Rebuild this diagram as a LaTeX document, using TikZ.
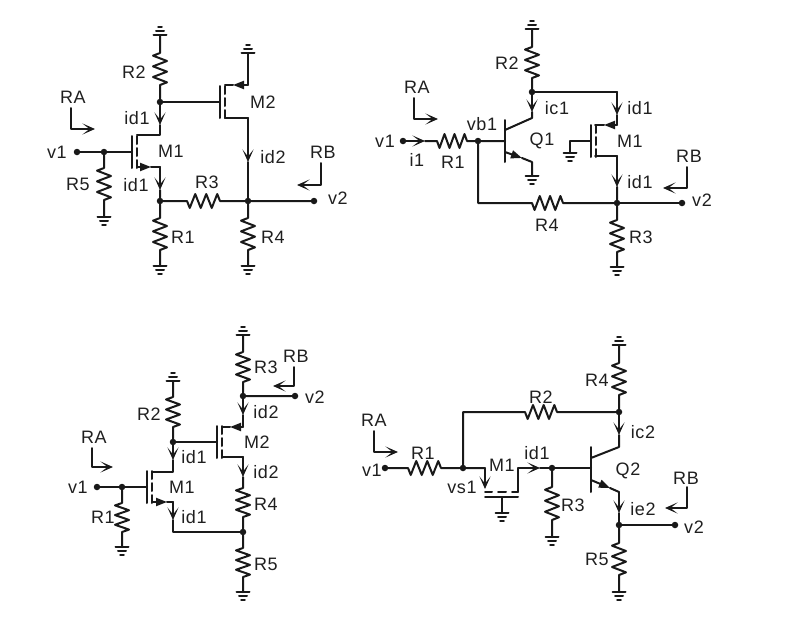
\documentclass[tikz,border=0pt]{standalone}
\usepackage{fontspec}
\setmainfont[LetterSpace=3]{Liberation Sans}
\usetikzlibrary{calc,arrows.meta}
\newcommand\mkc[2]{\coordinate (#1) at (#2);}
\newcommand\mkl[3]{\node[lbl] (#1) at (#2) {#3};}
\newcommand\mkd[2]{\node[dot] (#1) at (#2) {};}
\tikzset{
  x=1pt,y=-1pt,
  lbl/.style={inner sep=0pt,font=\fontsize{18}{20}\selectfont,text=black!88},
  dot/.style={circle,fill=black!90,draw=none,minimum size=6.5pt,inner sep=0pt},
  wire/.style={line width=2pt,draw=black!90,line cap=round,line join=round},
  thin wire/.style={line width=1.5pt,draw=black!90,line cap=round,line join=round},
  wa/.style={wire,-{Stealth[length=12.5pt,width=11pt,inset=7pt]}},
  la/.style={wire,-{Stealth[length=12.5pt,width=11pt,inset=7pt]}},
  fa/.style={wire,-{Triangle[length=11pt,width=8pt]}},
  rz/.style={to path={
    -- ($(\tikztostart)!1/12!(\tikztotarget)!7pt!-90:(\tikztotarget)$)
    -- ($(\tikztostart)!3/12!(\tikztotarget)!7pt!90:(\tikztotarget)$)
    -- ($(\tikztostart)!5/12!(\tikztotarget)!7pt!-90:(\tikztotarget)$)
    -- ($(\tikztostart)!7/12!(\tikztotarget)!7pt!90:(\tikztotarget)$)
    -- ($(\tikztostart)!9/12!(\tikztotarget)!7pt!-90:(\tikztotarget)$)
    -- ($(\tikztostart)!11/12!(\tikztotarget)!7pt!90:(\tikztotarget)$)
    -- (\tikztotarget)}},
  gnd/.pic={\draw[wire] (-6.5,0)--(6.5,0) (-4,4)--(4,4); \draw[thin wire] (-2,8)--(2,8);},
  gndi/.pic={\draw[wire] (-6.5,0)--(6.5,0) (-4,-4)--(4,-4); \draw[thin wire] (-2,-8)--(2,-8);},
  mos/.pic={\draw[wire] (0,-16)--(0,16) (5,-16)--(5,-8) (5,-4)--(5,4) (5,8)--(5,16);},
}
\begin{document}
\begin{tikzpicture}
\useasboundingbox (0,0) rectangle (812,643);
% ---------- circuit A
\mkc{ag}{160,35}\mkc{ar2t}{160,53}\mkc{ar2b}{160,85}\mkd{an1}{160,102}
\mkc{at1}{160,125}\mkc{ad}{160,135}\mkc{adc}{137,135}\mkc{agb}{132,152}
\mkd{av1}{77,152}\mkd{an2}{104,152}\mkc{ar5t}{104,168}\mkc{ar5b}{104,200}\mkc{ag5}{104,217}
\mkc{asc}{137,167}\mkc{asm}{151,167}\mkc{as}{160,167}\mkc{at2}{160,190}\mkd{an3}{160,201}
\mkc{ar1t}{160,218}\mkc{ar1b}{160,250}\mkc{ag1}{160,266}
\mkc{ar3l}{187,201}\mkc{ar3r}{220,201}\mkd{an4}{248,201}\mkd{av2}{314,201}
\mkc{ar4t}{248,218}\mkc{ar4b}{248,250}\mkc{ag4}{248,266}
\mkc{ag2}{208,102}\mkc{amg}{220,102}\mkc{amsc}{225,85}\mkc{amst}{233,85}\mkc{ams}{248,85}\mkc{agt}{248,53}
\mkc{amdc}{225,118}\mkc{amd}{248,118}\mkc{at3}{248,162}
\mkc{ara}{71,108}\mkc{arac}{71,129}\mkc{arae}{95,129}
\mkc{arb}{321,163}\mkc{arbc}{321,185}\mkc{arbe}{297,185}
\draw[wire] (ag) -- (ar2t) to[rz] (ar2b) -- (an1);
\draw[wa] (an1) -- (at1);
\draw[wire] (at1) -- (ad) -- (adc);
\pic at (ag) {gndi}; \pic at (agb) {mos};
\draw[wire] (av1) -- (agb);
\draw[wire] (an2) -- (ar5t) to[rz] (ar5b) -- (ag5); \pic at (ag5) {gnd};
\draw[fa] (asc) -- (asm);
\draw[wire] (asm) -- (as);
\draw[wa] (as) -- (at2);
\draw[wire] (at2) -- (an3) -- (ar1t) to[rz] (ar1b) -- (ag1); \pic at (ag1) {gnd};
\draw[wire] (an3) -- (ar3l) to[rz] (ar3r) -- (an4) -- (av2);
\draw[wire] (an4) -- (ar4t) to[rz] (ar4b) -- (ag4); \pic at (ag4) {gnd};
\draw[wire] (an1) -- (amg); \pic at (220,102) {mos};
\draw[fa] (ams) -- (amst);
\draw[wire] (amst) -- (amsc);
\draw[wire] (agt) -- (ams); \pic at (agt) {gndi};
\draw[wire] (amdc) -- (amd);
\draw[wa] (amd) -- (at3);
\draw[wire] (at3) -- (an4);
\draw[la] (ara) -- (arac) -- (arae);
\draw[la] (arb) -- (arbc) -- (arbe);
\mkl{l1}{73,97}{RA}\mkl{l2}{57,152}{v1}\mkl{l3}{338,198}{v2}\mkl{l4}{137,118}{id1}\mkl{l5}{136,185}{id1}
\mkl{l6}{78,184}{R5}\mkl{l7}{134,72}{R2}\mkl{l8}{171,151}{M1}\mkl{l9}{263,102}{M2}\mkl{l10}{273,157}{id2}
\mkl{l11}{323,152}{RB}\mkl{l12}{207,182}{R3}\mkl{l13}{183,237}{R1}\mkl{l14}{273,237}{R4}
% ---------- circuit B
\mkc{bg}{532,29}\mkc{br2t}{532,47}\mkc{br2b}{532,78}\mkd{bn1}{532,92}\mkc{bt1}{532,112}\mkc{bc}{532,118}\mkc{bcb}{505,130}
\mkc{bbb}{505,141}\mkd{bv1}{403,141}\mkc{bt2}{425,141}\mkc{br1l}{437,141}\mkc{br1r}{467,141}\mkd{bn2}{478,141}
\mkc{beb}{505,152}\mkc{bet}{522,158}\mkc{be}{532,162}\mkc{bge}{532,176}
\mkc{bcor}{617,92}\mkc{bt3}{617,115}\mkc{bs}{617,125}\mkc{bst}{604,125}\mkc{bsc}{595,125}
\mkc{bgb}{591,141}\mkc{bgc}{570,141}\mkc{bgg}{570,153}
\mkc{bdc}{595,156}\mkc{bd}{617,156}\mkc{bt4}{617,187}\mkd{bn3}{617,203}\mkd{bv2}{682,203}
\mkc{br3t}{617,220}\mkc{br3b}{617,252}\mkc{bg3}{617,267}
\mkc{bcc}{478,203}\mkc{br4l}{532,203}\mkc{br4r}{563,203}
\mkc{bra}{414,98}\mkc{brac}{414,119}\mkc{brae}{438,119}
\mkc{brb}{687,167}\mkc{brbc}{687,188}\mkc{brbe}{663,188}
\draw[wire] (bg) -- (br2t) to[rz] (br2b) -- (bn1); \pic at (bg) {gndi};
\draw[wa] (bn1) -- (bt1);
\draw[wire] (bt1) -- (bc) -- (bcb);
\draw[wire] (505,120) -- (505,162);
\draw[wa] (bv1) -- (bt2);
\draw[wire] (bt2) -- (br1l) to[rz] (br1r) -- (bn2) -- (bbb);
\draw[fa] (beb) -- (bet);
\draw[wire] (bet) -- (be) -- (bge); \pic at (bge) {gnd};
\draw[wire] (bn1) -- (bcor);
\draw[wa] (bcor) -- (bt3);
\draw[wire] (bt3) -- (bs);
\draw[fa] (bs) -- (bst);
\draw[wire] (bst) -- (bsc);
\pic at (591,141) {mos};
\draw[wire] (bgb) -- (bgc) -- (bgg); \pic at (bgg) {gnd};
\draw[wire] (bdc) -- (bd);
\draw[wa] (bd) -- (bt4);
\draw[wire] (bt4) -- (bn3) -- (br3t) to[rz] (br3b) -- (bg3); \pic at (bg3) {gnd};
\draw[wire] (bn3) -- (bv2);
\draw[wire] (bn2) -- (bcc) -- (br4l) to[rz] (br4r) -- (bn3);
\draw[la] (bra) -- (brac) -- (brae);
\draw[la] (brb) -- (brbc) -- (brbe);
\mkl{m1}{385,141}{v1}\mkl{m2}{417,160}{i1}\mkl{m3}{453,162}{R1}\mkl{m4}{482,124}{vb1}\mkl{m5}{417,87}{RA}
\mkl{m6}{542,141}{Q1}\mkl{m7}{557,108}{ic1}\mkl{m8}{640,108}{id1}\mkl{m9}{630,141}{M1}\mkl{m10}{689,156}{RB}
\mkl{m11}{640,182}{id1}\mkl{m12}{547,225}{R4}\mkl{m13}{641,237}{R3}\mkl{m14}{507,63}{R2}\mkl{m15}{702,200}{v2}
% ---------- circuit C
\mkc{cg}{243,335}\mkc{cr3t}{243,352}\mkc{cr3b}{243,382}\mkd{cn1}{243,396}\mkd{cv2}{295,396}
\mkc{ct1}{243,415}\mkc{cs}{243,427}\mkc{cst}{230,427}\mkc{csc}{222,427}\mkc{cgb}{217,442}
\mkc{cdc}{222,457}\mkc{cd}{243,457}\mkc{ct2}{243,477}\mkc{cr4t}{243,488}\mkc{cr4b}{243,517}\mkd{cn2}{243,532}
\mkc{cr5t}{243,548}\mkc{cr5b}{243,577}\mkc{cg5}{243,592}
\mkc{cg2}{173,381}\mkc{cr2t}{173,397}\mkc{cr2b}{173,427}\mkd{cn3}{173,442}\mkc{ct3}{173,460}
\mkc{cd1}{173,472}\mkc{cdc1}{152,472}\mkc{cgb1}{147,487}\mkd{cv1}{97,487}\mkd{cn4}{122,487}
\mkc{cr1t}{122,503}\mkc{cr1b}{122,532}\mkc{cg1}{122,547}
\mkc{csc1}{152,502}\mkc{cst1}{167,502}\mkc{cs1}{173,502}\mkc{ct4}{173,520}\mkc{cc1}{173,532}
\mkc{cra}{92,448}\mkc{crac}{92,467}\mkc{crae}{113,467}
\mkc{crb}{294,367}\mkc{crbc}{294,386}\mkc{crbe}{273,386}
\draw[wire] (cg) -- (cr3t) to[rz] (cr3b) -- (cn1) -- (cv2); \pic at (cg) {gndi};
\draw[wa] (cn1) -- (ct1);
\draw[wire] (ct1) -- (cs);
\draw[fa] (cs) -- (cst);
\draw[wire] (cst) -- (csc);
\pic at (217,442) {mos};
\draw[wire] (cn3) -- (cgb);
\draw[wire] (cdc) -- (cd);
\draw[wa] (cd) -- (ct2);
\draw[wire] (ct2) -- (cr4t) to[rz] (cr4b) -- (cn2) -- (cr5t) to[rz] (cr5b) -- (cg5); \pic at (cg5) {gnd};
\draw[wire] (cg2) -- (cr2t) to[rz] (cr2b) -- (cn3); \pic at (cg2) {gndi};
\draw[wa] (cn3) -- (ct3);
\draw[wire] (ct3) -- (cd1) -- (cdc1);
\pic at (147,487) {mos};
\draw[wire] (cv1) -- (cgb1);
\draw[wire] (cn4) -- (cr1t) to[rz] (cr1b) -- (cg1); \pic at (cg1) {gnd};
\draw[fa] (csc1) -- (cst1);
\draw[wire] (cst1) -- (cs1);
\draw[wa] (cs1) -- (ct4);
\draw[wire] (ct4) -- (cc1) -- (cn2);
\draw[la] (cra) -- (crac) -- (crae);
\draw[la] (crb) -- (crbc) -- (crbe);
\mkl{n1}{78,487}{v1}\mkl{n2}{94,437}{RA}\mkl{n3}{182,487}{M1}\mkl{n4}{103,517}{R1}\mkl{n5}{194,457}{id1}
\mkl{n6}{194,517}{id1}\mkl{n7}{149,414}{R2}\mkl{n8}{257,442}{M2}\mkl{n9}{266,412}{id2}\mkl{n10}{266,472}{id2}
\mkl{n11}{266,367}{R3}\mkl{n12}{296,356}{RB}\mkl{n13}{266,504}{R4}\mkl{n14}{266,564}{R5}\mkl{n15}{315,397}{v2}
% ---------- circuit D
\mkc{dg}{619,345}\mkc{dr4t}{619,363}\mkc{dr4b}{619,395}\mkd{dn1}{619,412}\mkc{dt1}{619,435}\mkc{dc}{619,447}\mkc{dcb}{591,458}
\mkc{dr2r}{557,412}\mkc{dr2l}{525,412}\mkc{dcr}{463,412}\mkd{dn2}{463,468}
\mkd{dv1}{385,468}\mkc{dr1l}{408,468}\mkc{dr1r}{441,468}
\mkc{dmc}{485,468}\mkc{dmt}{485,489}\mkc{dmd}{485,492}\mkc{dmr}{518,492}\mkc{dmrt}{518,468}
\mkc{dt2}{540,468}\mkd{dn3}{552,468}\mkc{dbb}{591,468}
\mkc{dgb}{502,497}\mkc{dgg}{502,513}
\mkc{dr3t}{552,487}\mkc{dr3b}{552,520}\mkc{dg3}{552,537}
\mkc{deb}{591,480}\mkc{det}{610,488}\mkc{de}{619,492}\mkc{dt3}{619,513}\mkd{dn4}{619,525}\mkd{dv2}{675,525}
\mkc{dr5t}{619,543}\mkc{dr5b}{619,575}\mkc{dg5}{619,592}
\mkc{dra}{374,431}\mkc{drac}{374,452}\mkc{drae}{398,452}
\mkc{drb}{687,487}\mkc{drbc}{687,508}\mkc{drbe}{665,508}
\draw[wire] (dg) -- (dr4t) to[rz] (dr4b) -- (dn1); \pic at (dg) {gndi};
\draw[wa] (dn1) -- (dt1);
\draw[wire] (dt1) -- (dc) -- (dcb);
\draw[wire] (591,447) -- (591,492);
\draw[wire] (dn1) -- (dr2r) to[rz] (dr2l) -- (dcr) -- (dn2);
\draw[wire] (dv1) -- (dr1l) to[rz] (dr1r) -- (dn2) -- (dmc);
\draw[wa] (dmc) -- (dmt);
\draw[wire] (dmr) -- (dmrt);
\draw[wire] (485,492) -- (492,492) (498,492) -- (506,492) (512,492) -- (518,492);
\draw[wire] (485,497) -- (518,497);
\draw[wire] (dgb) -- (dgg); \pic at (dgg) {gnd};
\draw[wa] (dmrt) -- (dt2);
\draw[wire] (dt2) -- (dn3) -- (dbb);
\draw[wire] (dn3) -- (dr3t) to[rz] (dr3b) -- (dg3); \pic at (dg3) {gnd};
\draw[fa] (deb) -- (det);
\draw[wire] (det) -- (de);
\draw[wa] (de) -- (dt3);
\draw[wire] (dt3) -- (dn4) -- (dv2);
\draw[wire] (dn4) -- (dr5t) to[rz] (dr5b) -- (dg5); \pic at (dg5) {gnd};
\draw[la] (dra) -- (drac) -- (drae);
\draw[la] (drb) -- (drbc) -- (drbe);
\mkl{o1}{374,420}{RA}\mkl{o2}{372,470}{v1}\mkl{o3}{423,453}{R1}\mkl{o4}{462,487}{vs1}\mkl{o5}{502,465}{M1}
\mkl{o6}{537,453}{id1}\mkl{o7}{541,397}{R2}\mkl{o8}{597,380}{R4}\mkl{o9}{643,432}{ic2}\mkl{o10}{628,471}{Q2}
\mkl{o11}{573,505}{R3}\mkl{o12}{643,509}{ie2}\mkl{o13}{686,478}{RB}\mkl{o14}{694,527}{v2}\mkl{o15}{597,559}{R5}
\end{tikzpicture}
\end{document}
